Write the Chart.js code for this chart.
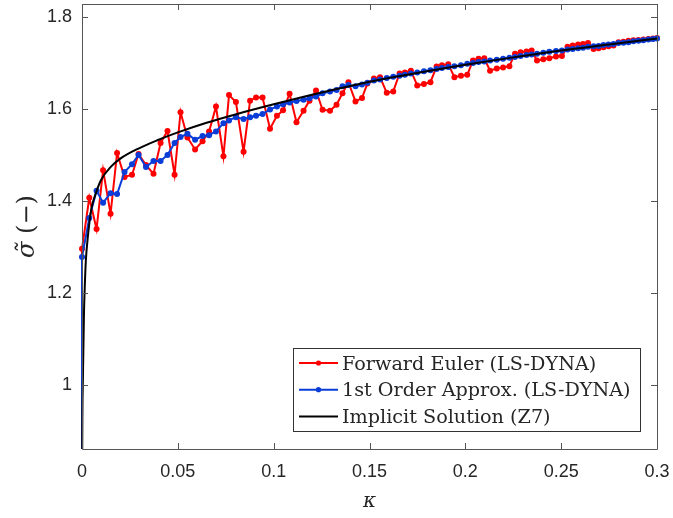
<!DOCTYPE html>
<html>
<head>
<meta charset="utf-8">
<script src="https://cdn.jsdelivr.net/npm/chart.js@4.4.1/dist/chart.umd.min.js"></script>
<style>
  html, body { margin: 0; padding: 0; background: #fff; }
  #wrap { width: 673px; height: 518px; }
</style>
</head>
<body>
<div id="wrap"><canvas id="plot" width="673" height="518"></canvas></div>
<script>
// plastic strain (shared output steps of both LS-DYNA runs)
const kappa = [0, 0, 0.0038, 0.0076, 0.0110, 0.0149, 0.0183, 0.0222, 0.0261, 0.0295, 0.0334,
  0.0373, 0.0410, 0.0446, 0.0483, 0.0514, 0.0550, 0.0590, 0.0629, 0.0663, 0.0699,
  0.0738, 0.0767, 0.0803, 0.0843, 0.0877, 0.0908, 0.0942, 0.0981, 0.1017, 0.1049,
  0.1083, 0.1119, 0.1156, 0.1187, 0.1221, 0.1255, 0.1294, 0.1328, 0.1359, 0.1390,
  0.1427, 0.1461, 0.1489, 0.1523, 0.1555, 0.1590, 0.1624, 0.1657, 0.1685, 0.1716,
  0.1749, 0.1784, 0.1818, 0.1850, 0.1878, 0.1911, 0.1943, 0.1977, 0.2010, 0.2040,
  0.2069, 0.2099, 0.2129, 0.2164, 0.2197, 0.2230, 0.2259, 0.2288, 0.2319, 0.2346,
  0.2374, 0.2407, 0.2438, 0.2473, 0.2504, 0.2533, 0.2560, 0.2588, 0.2614, 0.2640,
  0.2669, 0.2695, 0.2721, 0.2747, 0.2773, 0.2799, 0.2825, 0.2851, 0.2877, 0.2903,
  0.2929, 0.2955, 0.2979, 0.3000];

const sigmaEuler = [0.75, 1.296, 1.407, 1.339, 1.467, 1.372, 1.504, 1.452, 1.457, 1.502, 1.478,
  1.459, 1.526, 1.552, 1.457, 1.593, 1.538, 1.512, 1.530, 1.551, 1.605,
  1.497, 1.630, 1.615, 1.507, 1.618, 1.625, 1.625, 1.557, 1.585, 1.597,
  1.633, 1.571, 1.596, 1.618, 1.640, 1.598, 1.596, 1.609, 1.634, 1.658,
  1.616, 1.624, 1.655, 1.666, 1.669, 1.635, 1.638, 1.677, 1.679, 1.683,
  1.651, 1.654, 1.658, 1.692, 1.695, 1.697, 1.669, 1.672, 1.674, 1.705,
  1.709, 1.710, 1.683, 1.688, 1.690, 1.693, 1.720, 1.723, 1.725, 1.727,
  1.705, 1.708, 1.710, 1.714, 1.715, 1.735, 1.738, 1.740, 1.741, 1.743,
  1.730, 1.732, 1.734, 1.736, 1.738, 1.745, 1.746, 1.748, 1.749, 1.750,
  1.751, 1.752, 1.753, 1.754];

const sigmaFirstOrder = [0.75, 1.278, 1.363, 1.422, 1.396, 1.417, 1.415, 1.463, 1.480, 1.500, 1.474,
  1.487, 1.487, 1.500, 1.526, 1.539, 1.546, 1.533, 1.541, 1.543, 1.551,
  1.569, 1.575, 1.582, 1.578, 1.582, 1.585, 1.589, 1.599, 1.605, 1.610,
  1.614, 1.617, 1.620, 1.623, 1.627, 1.634, 1.638, 1.641, 1.649, 1.652,
  1.649, 1.653, 1.657, 1.662, 1.664, 1.667, 1.670, 1.672, 1.674, 1.677,
  1.679, 1.682, 1.684, 1.687, 1.689, 1.691, 1.693, 1.695, 1.698, 1.700,
  1.702, 1.703, 1.705, 1.707, 1.709, 1.711, 1.713, 1.715, 1.717, 1.718,
  1.720, 1.722, 1.724, 1.726, 1.727, 1.729, 1.730, 1.732, 1.733, 1.735,
  1.736, 1.737, 1.739, 1.740, 1.741, 1.743, 1.744, 1.745, 1.747, 1.748,
  1.749, 1.751, 1.752, 1.753];

// implicit (Z7) solution, denser sampling near the origin
const kappaImplicit = [0, 0.0002, 0.0005, 0.001, 0.0015, 0.002, 0.003, 0.004, 0.005, 0.0075,
  0.01, 0.015, 0.02, 0.03, 0.04, 0.05, 0.065, 0.08, 0.1, 0.12, 0.14, 0.16, 0.18,
  0.2, 0.225, 0.25, 0.275, 0.3];
const sigmaImplicit = [0.75, 0.93, 1.02, 1.15, 1.22, 1.27, 1.32, 1.357, 1.385, 1.420,
  1.446, 1.474, 1.492, 1.515, 1.533, 1.549, 1.570, 1.588, 1.610, 1.631, 1.650, 1.667, 1.682,
  1.696, 1.712, 1.727, 1.740, 1.753];

const xTicks = [0, 0.05, 0.1, 0.15, 0.2, 0.25, 0.3];
const yTicks = [1, 1.2, 1.4, 1.6, 1.8];
const seriesLabels = ['Forward Euler (LS-DYNA)', '1st Order Approx. (LS-DYNA)', 'Implicit Solution (Z7)'];
const seriesColors = ['#ff0000', '#0a3cd8', '#000000'];

const frameColor = '#555555';
const textColor = '#262626';
const serif = '"DejaVu Serif", "Liberation Serif", serif';

const toXY = (xs, ys) => xs.map((x, i) => ({ x, y: ys[i] }));

const markerLine = (label, xs, ys, color, order) => ({
  label,
  data: toXY(xs, ys),
  borderColor: color,
  backgroundColor: color,
  borderWidth: 2,
  pointRadius: 3,
  pointBorderWidth: 0,
  pointBackgroundColor: color,
  order,
  clip: { left: 4, top: 4, right: 4, bottom: 0 }
});

// box, inward tick marks, axis titles and the legend
const axisFrame = {
  id: 'axisFrame',
  afterDatasetsDraw(chart) {
    const { ctx, chartArea: a, scales: { x, y } } = chart;
    ctx.save();
    ctx.strokeStyle = frameColor;
    ctx.lineWidth = 1;
    ctx.beginPath();
    ctx.rect(a.left + 0.5, a.top + 0.5, a.right - a.left, a.bottom - a.top);
    const tl = 6;
    xTicks.forEach(v => {
      const px = Math.round(x.getPixelForValue(v)) + 0.5;
      ctx.moveTo(px, a.bottom); ctx.lineTo(px, a.bottom - tl);
      ctx.moveTo(px, a.top); ctx.lineTo(px, a.top + tl);
    });
    yTicks.forEach(v => {
      const py = Math.round(y.getPixelForValue(v)) + 0.5;
      ctx.moveTo(a.left, py); ctx.lineTo(a.left + tl, py);
      ctx.moveTo(a.right, py); ctx.lineTo(a.right - tl, py);
    });
    ctx.stroke();
    ctx.restore();
  },
  afterDraw(chart) {
    const { ctx, chartArea: a } = chart;
    ctx.save();
    ctx.fillStyle = textColor;

    // x title
    ctx.font = 'italic 20px ' + serif;
    ctx.textAlign = 'center';
    ctx.textBaseline = 'alphabetic';
    ctx.fillText('\u03ba', (a.left + a.right) / 2, 507);

    // y title, rotated
    ctx.save();
    ctx.translate(34, (a.top + a.bottom) / 2);
    ctx.rotate(-Math.PI / 2);
    const sym = '\u03c3\u0303';
    const unit = ' (\u2212)';
    ctx.font = 'italic 24px ' + serif;
    const w1 = ctx.measureText(sym).width;
    ctx.font = '24px ' + serif;
    const w2 = ctx.measureText(unit).width;
    ctx.textAlign = 'left';
    ctx.font = 'italic 24px ' + serif;
    ctx.fillText(sym, -(w1 + w2) / 2, 0);
    ctx.font = '24px ' + serif;
    ctx.fillText(unit, -(w1 + w2) / 2 + w1, 0);
    ctx.restore();

    // legend box in the lower right corner of the axes
    const bw = 347, bh = 83;
    const bx = Math.round(a.right - 17 - bw), by = Math.round(a.bottom - 18 - bh);
    ctx.fillStyle = '#ffffff';
    ctx.fillRect(bx, by, bw, bh);
    ctx.strokeStyle = '#333333';
    ctx.lineWidth = 1;
    ctx.strokeRect(bx + 0.5, by + 0.5, bw, bh);
    ctx.font = '19.2px ' + serif;
    ctx.textAlign = 'left';
    ctx.textBaseline = 'alphabetic';
    seriesLabels.forEach((label, i) => {
      const ly = by + 15 + i * 26.7;
      const col = seriesColors[i];
      ctx.strokeStyle = col;
      ctx.lineWidth = 2;
      ctx.beginPath();
      ctx.moveTo(bx + 6, ly); ctx.lineTo(bx + 45, ly);
      ctx.stroke();
      if (i < 2) {
        ctx.fillStyle = col;
        ctx.beginPath();
        ctx.arc(bx + 25.5, ly, 2.6, 0, Math.PI * 2);
        ctx.fill();
      }
      ctx.fillStyle = textColor;
      ctx.fillText(label, bx + 49, ly + 6.5);
    });
    ctx.restore();
  }
};

new Chart(document.getElementById('plot'), {
  type: 'line',
  data: {
    datasets: [
      markerLine(seriesLabels[0], kappa, sigmaEuler, seriesColors[0], 2),
      markerLine(seriesLabels[1], kappa, sigmaFirstOrder, seriesColors[1], 1),
      {
        label: seriesLabels[2],
        data: toXY(kappaImplicit, sigmaImplicit),
        borderColor: seriesColors[2],
        borderWidth: 2,
        pointRadius: 0,
        cubicInterpolationMode: 'monotone',
        order: 0,
        clip: { left: 4, top: 4, right: 4, bottom: 0 }
      }
    ]
  },
  options: {
    responsive: false,
    animation: false,
    devicePixelRatio: 1,
    layout: { padding: { left: 0, top: 4, right: 16, bottom: 0 } },
    plugins: {
      legend: { display: false },
      tooltip: { enabled: false }
    },
    scales: {
      x: {
        type: 'linear',
        min: 0,
        max: 0.3,
        grid: { display: false, drawTicks: false },
        border: { display: false },
        ticks: {
          color: textColor,
          padding: 12,
          maxRotation: 0,
          font: { family: '"Liberation Sans", Arial, sans-serif', size: 18 },
          callback: v => String(v)
        },
        afterBuildTicks: s => { s.ticks = xTicks.map(value => ({ value })); },
        afterFit: s => { s.height = 69; s.paddingLeft = 0; s.paddingRight = 0; }
      },
      y: {
        type: 'linear',
        min: 0.861,
        max: 1.828,
        grid: { display: false, drawTicks: false },
        border: { display: false },
        ticks: {
          color: textColor,
          padding: 10,
          font: { family: '"Liberation Sans", Arial, sans-serif', size: 18 },
          callback: v => String(v)
        },
        afterBuildTicks: s => { s.ticks = yTicks.map(value => ({ value })); },
        afterFit: s => { s.width = 82; s.paddingTop = 0; s.paddingBottom = 0; }
      }
    }
  },
  plugins: [axisFrame]
});
</script>
</body>
</html>
